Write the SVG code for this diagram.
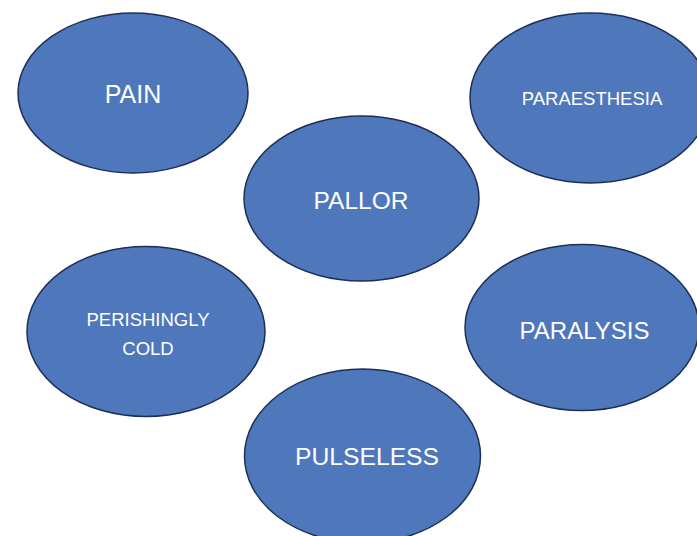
<svg xmlns="http://www.w3.org/2000/svg" width="697" height="536" viewBox="0 0 697 536">
  <style>
    .oval { fill: #4f77bb; stroke: #1c3055; stroke-width: 1.5; }
    .lbl { fill: #ffffff; font-family: "Liberation Sans", Arial, sans-serif; text-anchor: middle; }
  </style>
  <rect width="697" height="536" fill="#ffffff"/>

  <g id="pain">
    <ellipse class="oval" cx="133" cy="93" rx="115" ry="80"/>
    <text class="lbl" x="133" y="103" font-size="25">PAIN</text>
  </g>

  <g id="paraesthesia">
    <ellipse class="oval" cx="590" cy="98" rx="120" ry="85"/>
    <text class="lbl" x="592" y="105" font-size="18.5">PARAESTHESIA</text>
  </g>

  <g id="pallor">
    <ellipse class="oval" cx="361.5" cy="198.5" rx="117.5" ry="82.5"/>
    <text class="lbl" x="361" y="209" font-size="24.5">PALLOR</text>
  </g>

  <g id="perishingly-cold">
    <ellipse class="oval" cx="146" cy="331.5" rx="119" ry="85"/>
    <text class="lbl" x="148" y="326" font-size="18.5">PERISHINGLY</text>
    <text class="lbl" x="148" y="355" font-size="18.5">COLD</text>
  </g>

  <g id="paralysis">
    <ellipse class="oval" cx="582" cy="327.5" rx="117" ry="83"/>
    <text class="lbl" x="584.5" y="339" font-size="24">PARALYSIS</text>
  </g>

  <g id="pulseless">
    <ellipse class="oval" cx="362.5" cy="456" rx="118" ry="87"/>
    <text class="lbl" x="367" y="465" font-size="24.7">PULSELESS</text>
  </g>

  <g id="connectors"></g>
</svg>
